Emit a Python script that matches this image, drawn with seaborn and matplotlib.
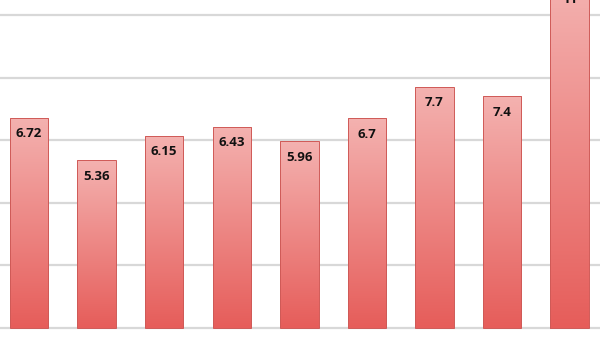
import numpy as np
import pandas as pd
import matplotlib
matplotlib.use("Agg")
import matplotlib.pyplot as plt
from matplotlib.colors import LinearSegmentedColormap
import seaborn as sns

categories = ["A", "B", "C", "D", "E", "F", "G", "H", "I"]
values = [6.72, 5.36, 6.15, 6.43, 5.96, 6.7, 7.7, 7.4, 11]
labels = ["6.72", "5.36", "6.15", "6.43", "5.96", "6.7", "7.7", "7.4", "11"]

sns.set_theme(style="white")
plt.rcParams['font.family'] = ['Open Sans', 'DejaVu Sans']

df = pd.DataFrame({"cat": categories, "val": values})

fig = plt.figure(figsize=(6.0, 3.38), dpi=100)
ax = fig.add_axes([0, 0, 1, 1])

sns.barplot(data=df, x="cat", y="val", ax=ax, width=0.57, color="#ec7370",
            edgecolor="#cf5a57", linewidth=0.7, zorder=3)

for y in range(0, 12, 2):
    ax.axhline(y, color="#d8d8d8", linewidth=1.6, zorder=1)

cmap = LinearSegmentedColormap.from_list("g", ["#e65d5a", "#f4b2b0"])
grad = np.linspace(0, 1, 256).reshape(-1, 1)
for p in ax.patches:
    x0, y0 = p.get_x(), p.get_y()
    w, h = p.get_width(), p.get_height()
    p.set_facecolor("none")
    im = ax.imshow(grad, cmap=cmap, aspect="auto", origin="lower",
                   extent=[x0, x0 + w, y0, y0 + h], zorder=2.5)
    im.set_clip_path(p)

for i, (v, lab) in enumerate(zip(values, labels)):
    ax.annotate(lab, xy=(i, v), xytext=(0, -11.5), textcoords="offset points",
                ha="center", va="center", fontsize=9.5, fontweight="bold",
                color="#111111", zorder=5, annotation_clip=False)

ax.set_xlim(-0.43, 8.45)
ax.set_ylim(-0.32, 10.48)
ax.set_xlabel("")
ax.set_ylabel("")
ax.set_xticks([])
ax.set_yticks([])
for s in ax.spines.values():
    s.set_visible(False)

fig.savefig("out.png", dpi=100)
